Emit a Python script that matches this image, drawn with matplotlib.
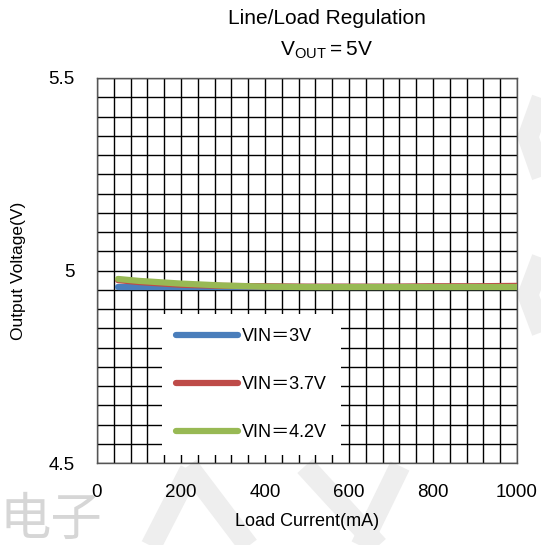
import matplotlib
matplotlib.use("Agg")
import matplotlib.pyplot as plt
from matplotlib.lines import Line2D

# ---- data ----
load_ma = [50, 100, 200, 300, 400, 500, 600, 700, 800, 900, 1000]
vin_3v = [4.957, 4.957, 4.957, 4.957, 4.957, 4.957, 4.957, 4.957, 4.957, 4.957, 4.957]
vin_3v7 = [4.975, 4.970, 4.963, 4.960, 4.959, 4.958, 4.958, 4.958, 4.959, 4.959, 4.960]
vin_4v2 = [4.978, 4.973, 4.966, 4.961, 4.958, 4.957, 4.957, 4.957, 4.957, 4.957, 4.957]
series_labels = ["VIN＝3V", "VIN＝3.7V", "VIN＝4.2V"]
x_ticks = [0, 200, 400, 600, 800, 1000]
y_ticks = [4.5, 5.0, 5.5]
y_tick_labels = ["4.5", "5", "5.5"]

plt.rcParams["font.family"] = ["Liberation Sans", "Noto Sans CJK SC", "DejaVu Sans"]

W, H = 541, 545
fig = plt.figure(figsize=(W / 100, H / 100), dpi=100)

def px(x, y):
    return x / W, 1 - y / H

# watermark (behind everything)
wm_col = "#eeeeee"
bands = [
    [(150, 548), (190, 470)],
    [(188, 466), (250, 548)],
    [(305, 466), (380, 548)],
    [(360, 548), (400, 466)],
    [(545, 90), (528, 137), (545, 185)],
    [(545, 250), (528, 295), (545, 340)],
]
for pts in bands:
    xs = [px(x, y)[0] for x, y in pts]
    ys = [px(x, y)[1] for x, y in pts]
    fig.add_artist(Line2D(xs, ys, color=wm_col, lw=15, zorder=0,
                          transform=fig.transFigure, solid_capstyle="butt",
                          solid_joinstyle="miter"))
fig.text(px(0, 0)[0], px(0, 547)[1], "电子", fontsize=37, color="#d6d6d6",
         family=["Noto Sans CJK SC"], ha="left", va="bottom", zorder=0)

ax = fig.add_axes([97 / W, 1 - 463 / H, (517 - 97) / W, (463 - 78) / H])
ax.set_facecolor("none")
ax.set_zorder(1)

ax.plot(load_ma, vin_3v, color="#4a7ebb", lw=4.5, label=series_labels[0], solid_capstyle="round", zorder=3)
ax.plot(load_ma, vin_3v7, color="#be4b48", lw=4.5, label=series_labels[1], solid_capstyle="round", zorder=4)
ax.plot(load_ma, vin_4v2, color="#98b954", lw=4.5, label=series_labels[2], solid_capstyle="round", zorder=5)

ax.set_xlim(0, 1000)
ax.set_ylim(4.5, 5.5)
ax.set_xticks(x_ticks)
ax.set_xticks(range(0, 1001, 40), minor=True)
ax.set_yticks(y_ticks)
ax.set_yticklabels(y_tick_labels)
ax.set_yticks([4.5 + 0.05 * i for i in range(21)], minor=True)
ax.grid(True, which="both", color="black", lw=1.0)
ax.set_axisbelow(True)
ax.tick_params(which="both", length=0, labelsize=13.5)
ax.tick_params(axis="x", pad=15)
ax.tick_params(axis="y", pad=16)
for s in ax.spines.values():
    s.set_color("#555555")
    s.set_linewidth(1.0)

ax.set_xlabel("Load Current(mA)", fontsize=13, labelpad=9)
ax.set_ylabel("Output Voltage(V)", fontsize=12.5, labelpad=16)

fig.text(px(327, 0)[0], px(0, 19)[1], "Line/Load Regulation", fontsize=15,
         ha="center", va="center")
fig.text(px(327, 0)[0], px(0, 50)[1], "$\\mathregular{V_{OUT}=5V}$", fontsize=15,
         ha="center", va="center")

leg = ax.legend(loc="upper left", bbox_to_anchor=((162 - 97) / 420, (463 - 314) / 385),
                frameon=True, fancybox=False, edgecolor="none", facecolor="white",
                framealpha=1, fontsize=13, handlelength=3.4, handletextpad=0.2,
                labelspacing=1.7, borderpad=0.8, borderaxespad=0)
leg.set_zorder(6)

fig.savefig("out.png", dpi=100)
